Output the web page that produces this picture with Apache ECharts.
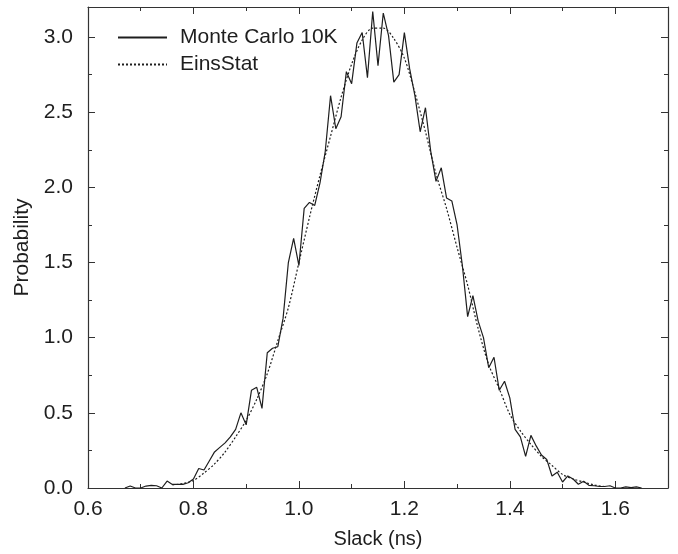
<!DOCTYPE html>
<html>
<head>
<meta charset="utf-8">
<script src="https://cdn.jsdelivr.net/npm/echarts@6/dist/echarts.min.js"></script>
<style>
html,body{margin:0;padding:0;background:#fff;}
#chart{width:678px;height:554px;}
</style>
</head>
<body>
<div id="chart"></div>
<script>
// Monte Carlo 10K samples
var mcSlack = [0.67,0.68,0.69,0.70,0.71,0.72,0.73,0.74,0.75,0.76,0.77,0.78,0.79,0.80,0.81,0.82,0.83,0.84,0.85,0.86,0.87,0.88,0.89,0.90,0.91,0.92,0.93,0.94,0.95,0.96,0.97,0.98,0.99,1.00,1.01,1.02,1.03,1.04,1.05,1.06,1.07,1.08,1.09,1.10,1.11,1.12,1.13,1.14,1.15,1.16,1.17,1.18,1.19,1.20,1.21,1.22,1.23,1.24,1.25,1.26,1.27,1.28,1.29,1.30,1.31,1.32,1.33,1.34,1.35,1.36,1.37,1.38,1.39,1.40,1.41,1.42,1.43,1.44,1.45,1.46,1.47,1.48,1.49,1.50,1.51,1.52,1.53,1.54,1.55,1.56,1.57,1.58,1.59,1.60,1.61,1.62,1.63,1.64,1.65];
var mcProb = [0,0.013,0,0,0.013,0.018,0.015,0,0.046,0.024,0.024,0.024,0.035,0.06,0.13,0.12,0.18,0.24,0.27,0.30,0.34,0.39,0.50,0.42,0.65,0.67,0.53,0.90,0.93,0.94,1.13,1.50,1.66,1.48,1.86,1.90,1.88,2.03,2.24,2.61,2.39,2.47,2.77,2.69,2.96,3.03,2.73,3.17,2.81,3.16,3.01,2.70,2.75,3.03,2.79,2.61,2.37,2.53,2.24,2.04,2.13,1.93,1.91,1.75,1.48,1.14,1.28,1.11,1.00,0.80,0.87,0.65,0.71,0.60,0.39,0.34,0.21,0.35,0.28,0.22,0.19,0.08,0.105,0.04,0.08,0.06,0.025,0.045,0.018,0.015,0.01,0.01,0.015,0,0,0.007,0.003,0.007,0];
// EinsStat
var esSlack = [0.76,0.78,0.80,0.82,0.84,0.86,0.88,0.90,0.92,0.94,0.96,0.98,1.00,1.02,1.04,1.06,1.08,1.10,1.12,1.14,1.16,1.18,1.20,1.22,1.24,1.26,1.28,1.30,1.32,1.34,1.36,1.38,1.40,1.42,1.44,1.46,1.48,1.50,1.52,1.54,1.56,1.58];
var esProb = [0.02,0.03,0.05,0.10,0.16,0.24,0.34,0.45,0.59,0.76,0.98,1.20,1.50,1.80,2.08,2.34,2.60,2.82,2.98,3.06,3.06,2.99,2.86,2.63,2.37,2.09,1.86,1.60,1.35,1.06,0.82,0.66,0.49,0.38,0.29,0.21,0.15,0.09,0.06,0.04,0.02,0.01];
var seriesNames = ['Monte Carlo 10K','EinsStat'];

function pairs(xs, ys){ return xs.map(function(x,i){return [x, ys[i]];}); }

var FONT = 'Liberation Sans, Arial, Helvetica, sans-serif';
var INK = '#1e1e1e';
var chart = echarts.init(document.getElementById('chart'), null, {renderer:'canvas'});
var axisCommon = {
  axisLine:{show:true, onZero:false, lineStyle:{color:'#333', width:1.2}},
  axisTick:{show:true, inside:true, length:7, lineStyle:{color:'#333', width:1}},
  minorTick:{show:true, splitNumber:2, length:4, lineStyle:{color:'#333', width:1}},
  splitLine:{show:false}
};
chart.setOption({
  animation:false,
  backgroundColor:'#fff',
  grid:{left:88, right:10, top:7, bottom:62, containLabel:false},
  legend:{
    show:true, orient:'vertical', left:112, top:22, itemWidth:49, itemHeight:20, itemGap:6,
    data:seriesNames,
    itemStyle:{opacity:0},
    textStyle:{fontFamily:FONT, fontSize:21, color:INK, padding:[0,0,0,8]}
  },
  xAxis:[
    Object.assign({type:'value', min:0.6, max:1.7, interval:0.2, position:'bottom',
      name:'Slack (ns)', nameLocation:'middle', nameGap:41,
      nameTextStyle:{fontFamily:FONT, fontSize:20, color:INK},
      axisLabel:{show:true, margin:11, fontFamily:FONT, fontSize:21, color:INK, showMaxLabel:false,
        formatter:function(v){return v.toFixed(1);}}}, axisCommon),
    Object.assign({type:'value', min:0.6, max:1.7, interval:0.2, position:'top',
      axisLabel:{show:false}}, axisCommon)
  ],
  yAxis:[
    Object.assign({type:'value', min:0, max:3.2, interval:0.5, position:'left',
      name:'Probability', nameLocation:'middle', nameGap:55,
      nameTextStyle:{fontFamily:FONT, fontSize:21, color:INK},
      axisLabel:{show:true, margin:15, fontFamily:FONT, fontSize:21, color:INK, showMaxLabel:false,
        formatter:function(v){return v.toFixed(1);}}}, axisCommon),
    Object.assign({type:'value', min:0, max:3.2, interval:0.5, position:'right',
      axisLabel:{show:false}}, axisCommon)
  ],
  series:[
    {name:seriesNames[0], type:'line', data:pairs(mcSlack, mcProb), symbol:'none', showSymbol:false,
      lineStyle:{color:INK, width:1.2, type:'solid'}, itemStyle:{color:INK}, z:3},
    {name:seriesNames[1], type:'line', data:pairs(esSlack, esProb), symbol:'none', showSymbol:false, smooth:0.3,
      lineStyle:{color:INK, width:1.2, type:[2,2]}, itemStyle:{color:INK}, z:2}
  ]
});
</script>
</body>
</html>
